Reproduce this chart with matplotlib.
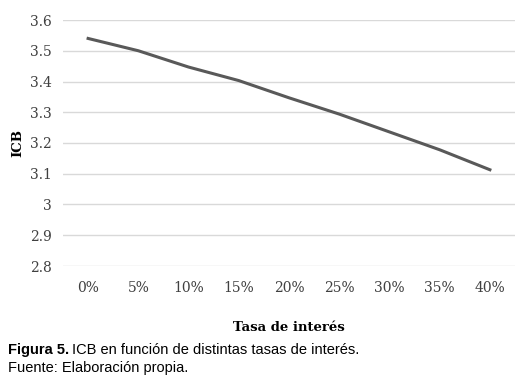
import matplotlib
matplotlib.use("Agg")
import matplotlib.pyplot as plt

tasas = ["0%", "5%", "10%", "15%", "20%", "25%", "30%", "35%", "40%"]
icb = [3.54, 3.50, 3.447, 3.403, 3.347, 3.294, 3.236, 3.178, 3.113]
yticks = [2.8, 2.9, 3.0, 3.1, 3.2, 3.3, 3.4, 3.5, 3.6]
ytick_labels = ["2.8", "2.9", "3", "3.1", "3.2", "3.3", "3.4", "3.5", "3.6"]

fig = plt.figure(figsize=(5.2, 3.81), dpi=100)
ax = fig.add_axes([63 / 520, 1 - 266 / 381, 452 / 520, 246 / 381])

x = list(range(len(tasas)))
ax.plot(x, icb, color="#595959", lw=2.2)

ax.set_xlim(-0.5, len(tasas) - 0.5)
ax.set_ylim(2.8, 3.6)
ax.set_yticks(yticks)
ax.set_yticklabels(ytick_labels)
ax.set_xticks(x)
ax.set_xticklabels(tasas)
ax.grid(axis="y", color="#d9d9d9", lw=1)
ax.set_axisbelow(True)
for s in ax.spines.values():
    s.set_visible(False)
ax.tick_params(length=0, labelsize=10, labelcolor="#404040")
ax.tick_params(axis="y", pad=8)
ax.tick_params(axis="x", pad=11)
for lab in ax.get_xticklabels() + ax.get_yticklabels():
    lab.set_family("DejaVu Serif")

ax.set_ylabel("ICB", family="DejaVu Serif", fontweight="bold", fontsize=9.5)
ax.yaxis.set_label_coords(-0.085, 0.5)
ax.set_xlabel("Tasa de interés", family="DejaVu Serif", fontweight="bold", fontsize=9.5)
ax.xaxis.set_label_coords(0.5, -0.225)

# caption below the chart
t1 = fig.text(8 / 520, 1 - 350 / 381, "Figura 5.", family="Liberation Sans",
              fontsize=10.5, fontweight="bold", va="center", ha="left")
fig.canvas.draw()
bb = t1.get_window_extent()
fig.text((bb.x1 + 3) / 520, 1 - 350 / 381, "ICB en función de distintas tasas de interés.",
         family="Liberation Sans", fontsize=10.5, va="center", ha="left")
fig.text(8 / 520, 1 - 368 / 381, "Fuente: Elaboración propia.", family="Liberation Sans",
         fontsize=10.5, va="center", ha="left")

fig.savefig("out.png", dpi=100)
